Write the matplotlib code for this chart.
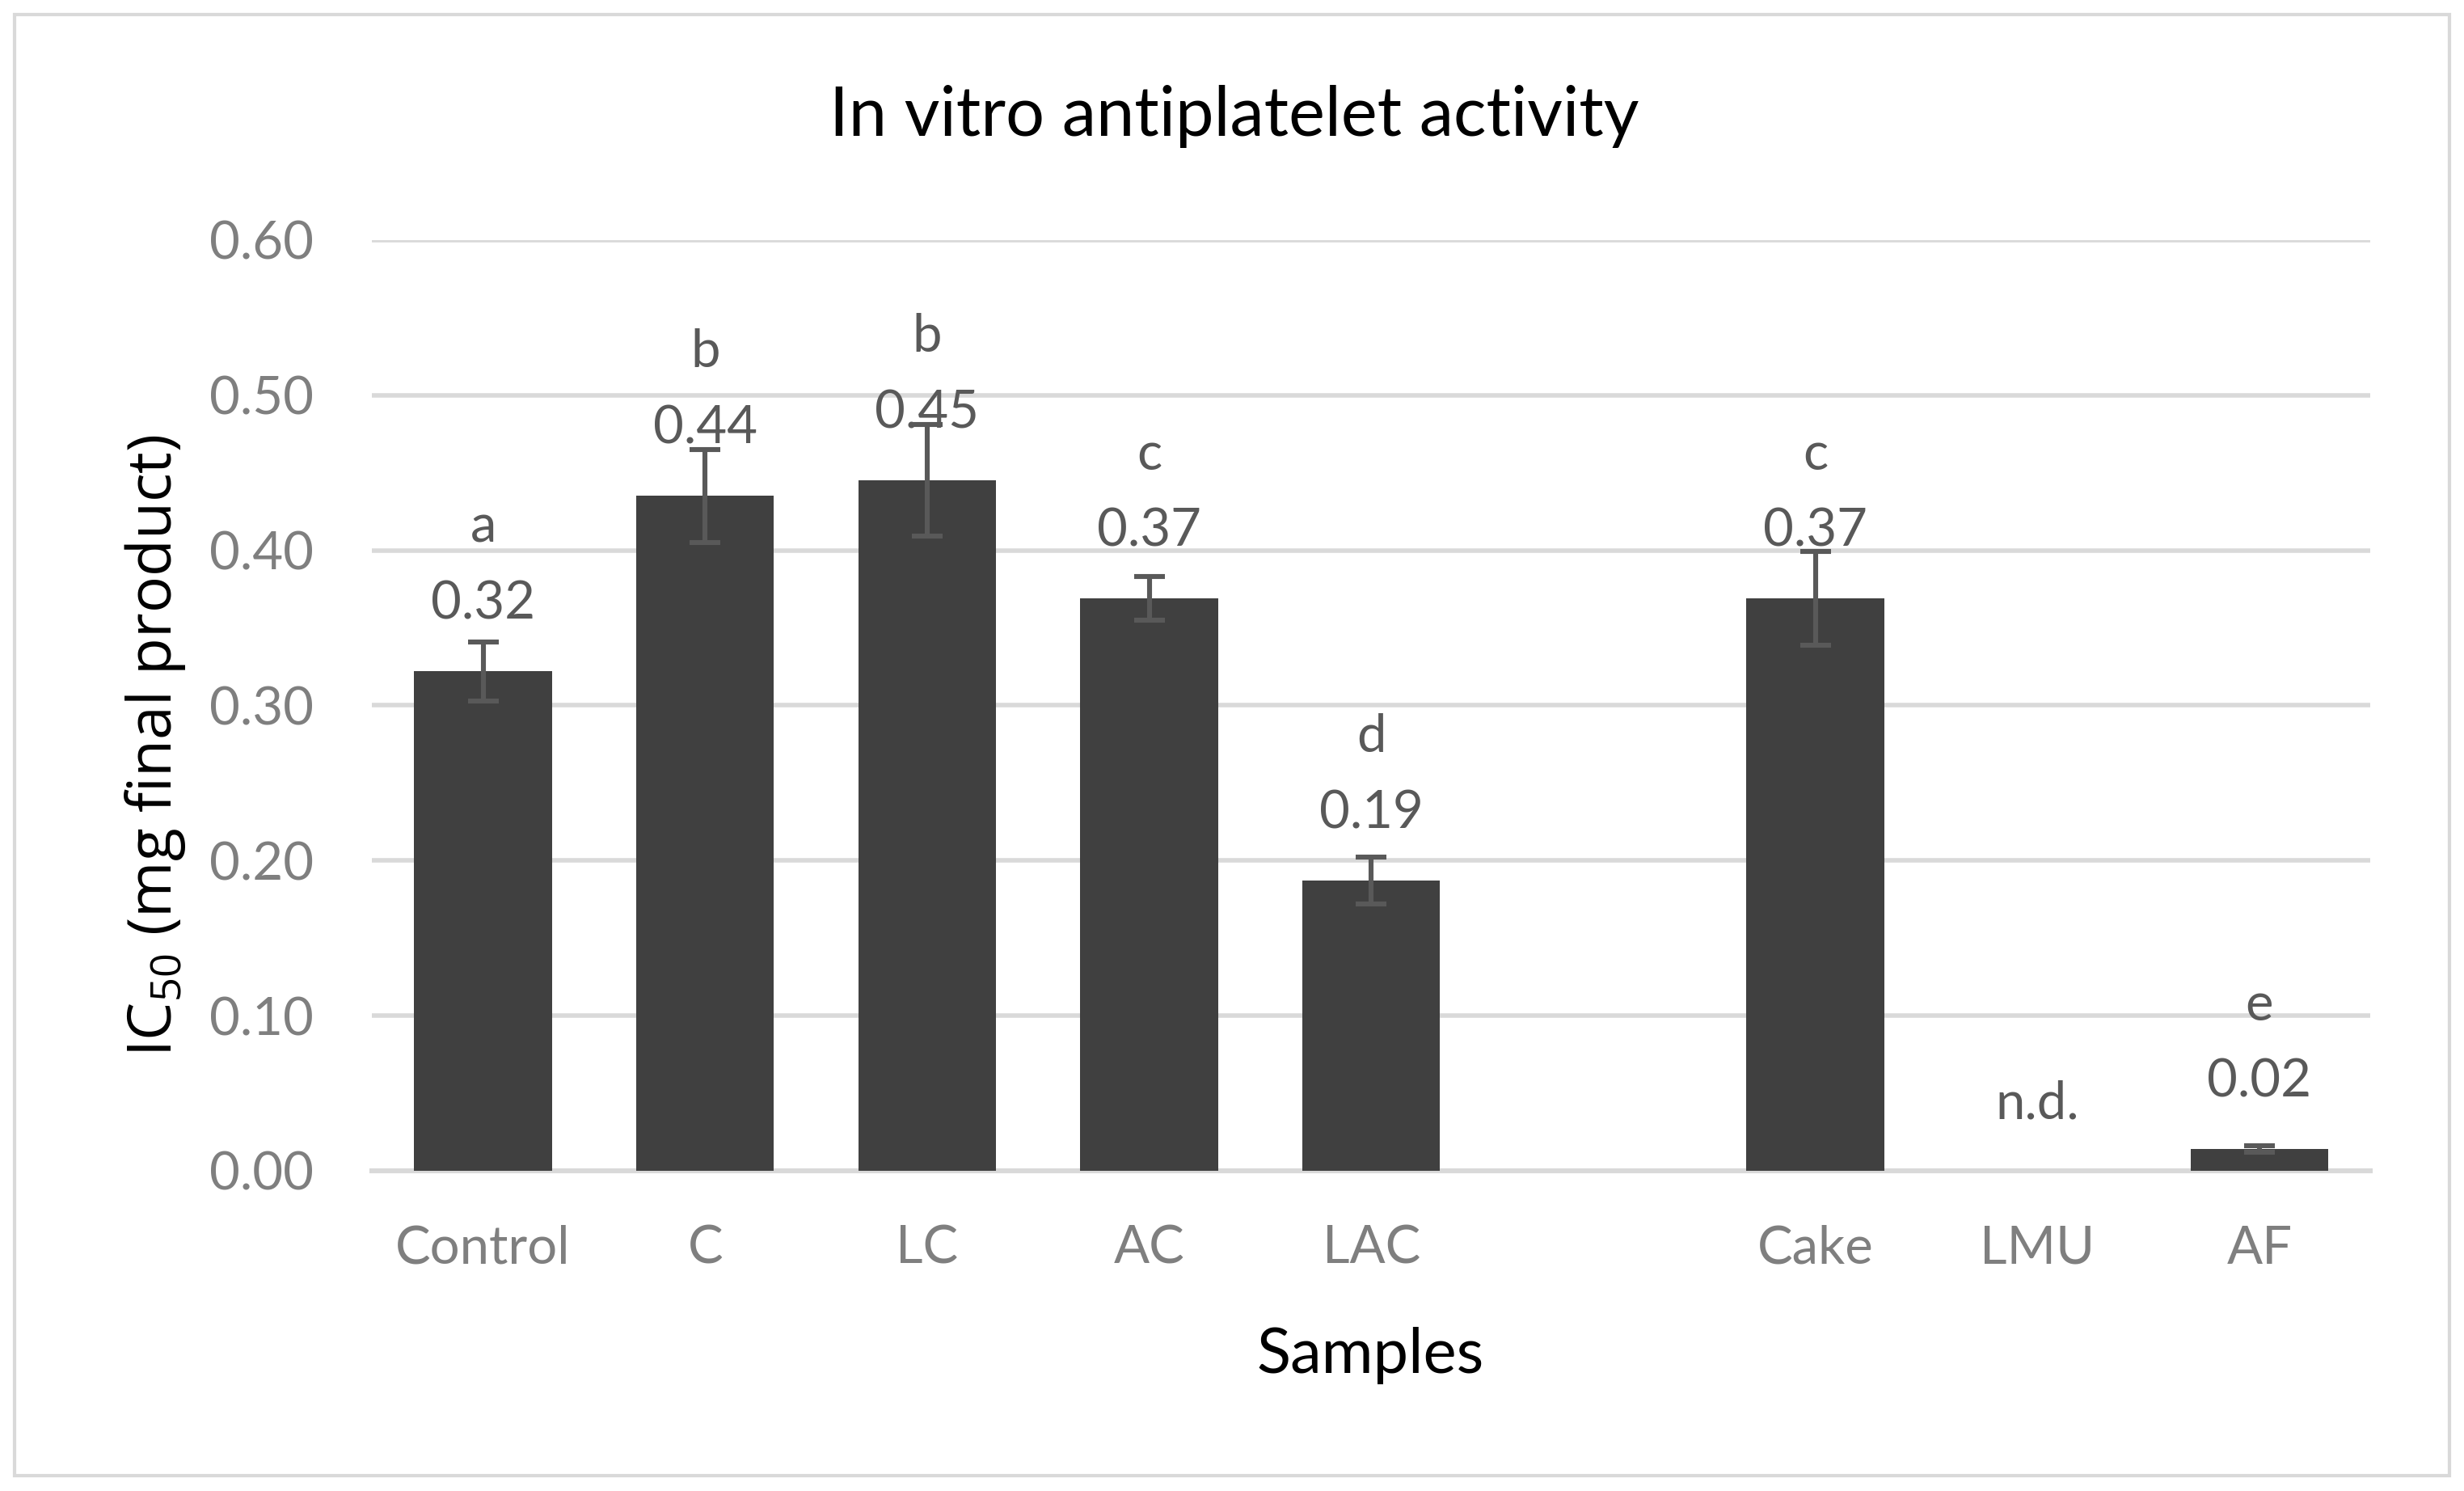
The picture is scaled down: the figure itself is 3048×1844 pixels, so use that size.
import numpy as np
import matplotlib.pyplot as plt
from matplotlib.patches import Rectangle

# data
samples = ['Control', 'C', 'LC', 'AC', 'LAC', '', 'Cake', 'LMU', 'AF']
ic50 = [0.322, 0.435, 0.445, 0.369, 0.187, 0.0, 0.369, 0.0, 0.014]
sd = [0.019, 0.030, 0.036, 0.014, 0.015, 0.0, 0.030, 0.0, 0.002]
value_labels = ['0.32', '0.44', '0.45', '0.37', '0.19', '', '0.37', 'n.d.', '0.02']
letters = ['a', 'b', 'b', 'c', 'd', '', 'c', '', 'e']
has_bar = [True, True, True, True, True, False, True, False, True]

plt.rcParams['font.family'] = ['Lato', 'DejaVu Sans']
plt.rcParams['mathtext.fontset'] = 'custom'
plt.rcParams['mathtext.rm'] = 'Open Sans'

fig = plt.figure(figsize=(15.24, 9.22), dpi=200)
ax = fig.add_axes([0.151, 0.2148, 0.811, 0.6242])

x = np.arange(len(samples))
heights = [v if b else 0 for v, b in zip(ic50, has_bar)]
ax.bar(x, heights, width=0.62, color='#404040', zorder=3)
for xi, v, e, b in zip(x, ic50, sd, has_bar):
    if b:
        ax.errorbar(xi, v, yerr=e, fmt='none', ecolor='#595959',
                    elinewidth=2.2, capsize=7, capthick=2.2, zorder=4)

for xi, v, lab, let in zip(x, ic50, value_labels, letters):
    if lab:
        ax.annotate(lab, (xi, v), xytext=(0, 30), textcoords='offset points',
                    ha='center', va='center', fontsize=23.5, color='#595959')
    if let:
        ax.annotate(let, (xi, v), xytext=(0, 64), textcoords='offset points',
                    ha='center', va='center', fontsize=23.5, color='#595959')

ax.set_xlim(-0.5, len(samples) - 0.5)
ax.set_ylim(0, 0.6)
ax.set_yticks(np.arange(0, 0.61, 0.1))
ax.set_yticklabels(['%.2f' % t for t in np.arange(0, 0.61, 0.1)])
ax.set_xticks(x)
ax.set_xticklabels(samples)
ax.tick_params(axis='both', length=0, labelsize=23.5, labelcolor='#7f7f7f')
ax.tick_params(axis='y', pad=26)
ax.tick_params(axis='x', pad=24)
ax.grid(axis='y', color='#d9d9d9', linewidth=2, zorder=0)
for s in ['top', 'right', 'left']:
    ax.spines[s].set_visible(False)
ax.spines['bottom'].set_color('#d9d9d9')
ax.spines['bottom'].set_linewidth(2.2)
ax.spines['bottom'].set_zorder(1)

fig.text(0.501, 0.922, 'In vitro antiplatelet activity', ha='center', va='center',
         fontsize=30.5, color='black')
fig.text(0.556, 0.091, 'Samples', ha='center', va='center', fontsize=28, color='black')
fig.text(0.063, 0.50, r'IC$_{50}$ (mg final product)', ha='center', va='center',
         rotation=90, fontsize=27, color='black', family='Open Sans')

fig.patches.append(Rectangle((0.006, 0.0103), 0.988, 0.9799, transform=fig.transFigure,
                             fill=False, edgecolor='#d9d9d9', linewidth=1.5))

fig.savefig('out.png', dpi=200, facecolor='white')
